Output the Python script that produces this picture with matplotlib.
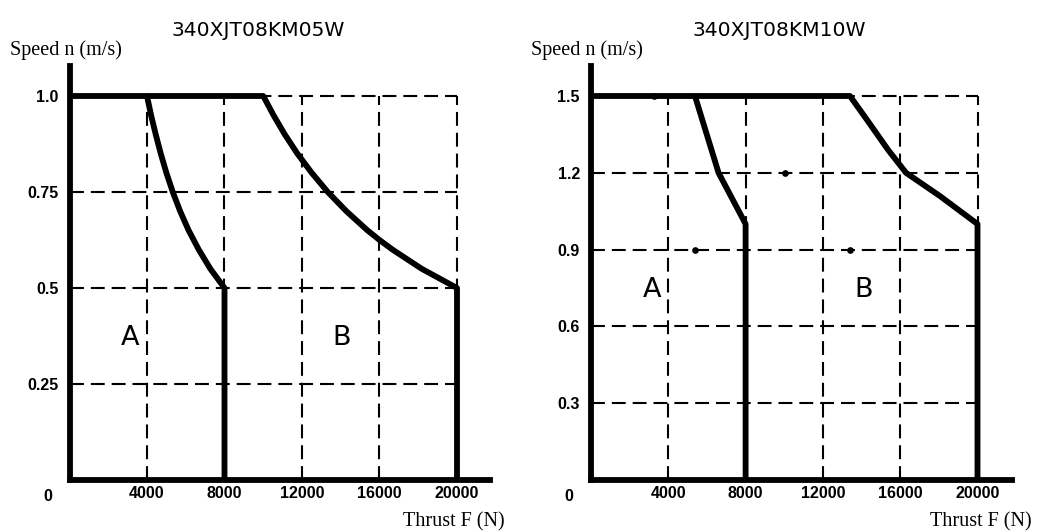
import matplotlib
matplotlib.use("Agg")
import matplotlib.pyplot as plt

plt.rcParams['lines.scale_dashes'] = False

W, H = 1037, 531

# ---------------- data ----------------
titles = ["340XJT08KM05W", "340XJT08KM10W"]

left_xticks = [4000, 8000, 12000, 16000, 20000]
left_yticks = [0.25, 0.5, 0.75, 1.0]
left_yticklabels = ["0.25", "0.5", "0.75", "1.0"]

right_xticks = [4000, 8000, 12000, 16000, 20000]
right_yticks = [0.3, 0.6, 0.9, 1.2, 1.5]
right_yticklabels = ["0.3", "0.6", "0.9", "1.2", "1.5"]

# left chart boundary A (thrust N, speed m/s)
left_A_thrust = [0, 4000, 4210, 4450, 4710, 5000, 5330, 5710, 6150, 6670, 7270, 8000, 8000]
left_A_speed = [1.0, 1.0, 0.95, 0.9, 0.85, 0.8, 0.75, 0.7, 0.65, 0.6, 0.55, 0.5, 0.0]
# left chart boundary B
left_B_thrust = [4000, 10000, 10530, 11110, 11760, 12500, 13330, 14290, 15380, 16000, 16670, 18180, 20000, 20000]
left_B_speed = [1.0, 1.0, 0.95, 0.9, 0.85, 0.8, 0.75, 0.7, 0.65, 0.625, 0.6, 0.55, 0.5, 0.0]

# right chart boundary A
right_A_thrust = [0, 5380, 5990, 6600, 7300, 8000, 8000]
right_A_speed = [1.5, 1.5, 1.35, 1.2, 1.1, 1.0, 0.0]
# right chart boundary B
right_B_thrust = [5380, 13400, 14280, 15370, 16300, 18060, 20000, 20000]
right_B_speed = [1.5, 1.5, 1.407, 1.29, 1.2, 1.109, 1.0, 0.0]

# small stray dots on the right chart
right_dot_thrust = [3260, 5380, 10040, 13400]
right_dot_speed = [1.5, 0.9, 1.2, 0.9]

fig = plt.figure(figsize=(W / 100, H / 100), dpi=100)


def px_axes(x0, y0_top, x1, y1_bottom):
    return fig.add_axes([x0 / W, (H - y1_bottom) / H, (x1 - x0) / W, (y1_bottom - y0_top) / H])


DASH = (0, (10, 5))
GRID_LW = 1.5
CURVE_LW = 4.2
SPINE_LW = 4.2
TICK_FONT = dict(family="Liberation Sans", weight="bold", size=11.5)
LETTER_FONT = dict(family="DejaVu Sans", size=19.5)


def make_panel(ax, xmax, ymax, xticks, yticks, yticklabels, xlast, ylast,
               curves, title, title_x, ab_pos, dots=None):
    ax.set_xlim(0, xmax)
    ax.set_ylim(0, ymax)
    for s in ["top", "right"]:
        ax.spines[s].set_visible(False)
    for s in ["left", "bottom"]:
        ax.spines[s].set_linewidth(SPINE_LW)
        ax.spines[s].set_capstyle("projecting")
    for x in xticks:
        ax.plot([x, x], [0, ylast], color="black", lw=GRID_LW, ls=DASH, zorder=1)
    for y in yticks:
        ax.plot([0, xlast], [y, y], color="black", lw=GRID_LW, ls=DASH, zorder=1)
    for xs, ys in curves:
        ax.plot(xs, ys, color="black", lw=CURVE_LW, solid_joinstyle="round",
                solid_capstyle="butt", zorder=3)
    if dots is not None:
        ax.plot(dots[0], dots[1], "o", color="black", ms=3.8, zorder=2)
    ax.set_xticks(xticks)
    ax.set_xticklabels([str(x) for x in xticks], fontdict=TICK_FONT)
    ax.set_yticks(yticks)
    ax.set_yticklabels(yticklabels, fontdict=TICK_FONT)
    ax.tick_params(axis="y", length=0, pad=8)
    ax.tick_params(axis="x", length=0, pad=4)
    ax.text(-0.052, -0.022, "0", transform=ax.transAxes, ha="center", va="top",
            **TICK_FONT)
    ax.text(ab_pos[0][0], ab_pos[0][1], "A", ha="center", va="center", **LETTER_FONT)
    ax.text(ab_pos[1][0], ab_pos[1][1], "B", ha="center", va="center", **LETTER_FONT)
    fig.text(title_x / W, 1 - 30 / H, title, ha="center", va="center",
             family="DejaVu Sans", size=14.6)


# left panel: x=0 at px 69.5, 4000 per 77.5 px; y=0 at px 480, 0.25 per 96 px
axL = px_axes(69.5, 66, 490, 480)
make_panel(axL, (490 - 69.5) / 77.5 * 4000, (480 - 66) / 384.0,
           left_xticks, left_yticks, left_yticklabels, 20000, 1.0,
           [(left_A_thrust, left_A_speed), (left_B_thrust, left_B_speed)],
           titles[0], 258, [(3120, 0.37), (14060, 0.37)])

# right panel: x=0 at px 591, 4000 per 77.3 px; y=0 at px 480, 1.5 at px 96
axR = px_axes(591, 66, 1012, 480)
make_panel(axR, (1012 - 591) / 77.3 * 4000, (480 - 66) / 256.0,
           right_xticks, right_yticks, right_yticklabels, 20000, 1.5,
           [(right_A_thrust, right_A_speed), (right_B_thrust, right_B_speed)],
           titles[1], 779, [(3157, 0.742), (14127, 0.742)],
           dots=(right_dot_thrust, right_dot_speed))

SERIF = dict(family="Liberation Serif", size=14.5)
fig.text(10 / W, 1 - 50 / H, "Speed n (m/s)", ha="left", va="center", **SERIF)
fig.text(531 / W, 1 - 50 / H, "Speed n (m/s)", ha="left", va="center", **SERIF)
fig.text(505 / W, 1 - 522 / H, "Thrust F (N)", ha="right", va="center", **SERIF)
fig.text(1032 / W, 1 - 522 / H, "Thrust F (N)", ha="right", va="center", **SERIF)

fig.savefig("out.png", dpi=100, facecolor="white")
